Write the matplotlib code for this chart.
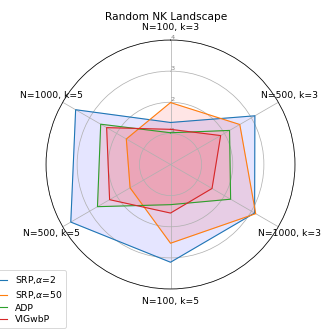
import numpy as np
import matplotlib.pyplot as plt

# landscape settings, clockwise from the top
categories = ['N=100, k=3', 'N=500, k=3', 'N=1000, k=3',
              'N=100, k=5', 'N=500, k=5', 'N=1000, k=5']

srp_a2 = [1.35, 3.13, 3.12, 3.14, 3.70, 3.52]
srp_a50 = [1.99, 2.57, 3.16, 2.53, 1.50, 1.64]
adp = [1.02, 2.19, 2.23, 1.29, 2.71, 2.59]
vigwbp = [1.13, 1.86, 1.54, 1.56, 2.26, 2.37]

series = [('SRP,$\\alpha$=2', srp_a2, 'C0', 'b'),
          ('SRP,$\\alpha$=50', srp_a50, 'C1', 'r'),
          ('ADP', adp, 'C2', 'r'),
          ('VIGwbP', vigwbp, 'C3', 'r')]

angles = np.linspace(0, 2 * np.pi, len(categories), endpoint=False).tolist()
angles += angles[:1]

fig = plt.figure(figsize=(5, 5), dpi=66.4)
ax = fig.add_axes([0.1386, 0.1295, 0.75, 0.75], polar=True)
ax.set_theta_offset(np.pi / 2)
ax.set_theta_direction(-1)

for name, vals, line_c, fill_c in series:
    v = vals + vals[:1]
    ax.plot(angles, v, color=line_c, linewidth=1.2, label=name)
    ax.fill(angles, v, color=fill_c, alpha=0.1)

ax.set_xticks(angles[:-1])
ax.set_xticklabels(categories, fontsize=10)
ax.set_ylim(0, 4)
ax.set_yticks([1, 2, 3, 4])
ax.set_yticklabels(['1', '2', '3', '4'], color='grey', fontsize=7)
ax.set_rlabel_position(0)

fig.suptitle('Random NK Landscape', fontsize=11.4, y=0.963)
ax.legend(loc='lower left', bbox_to_anchor=(-0.045, 0.012),
          bbox_transform=fig.transFigure, borderaxespad=0, fontsize=10,
          labelspacing=0.3)

fig.savefig('out.png', dpi=66.4)
